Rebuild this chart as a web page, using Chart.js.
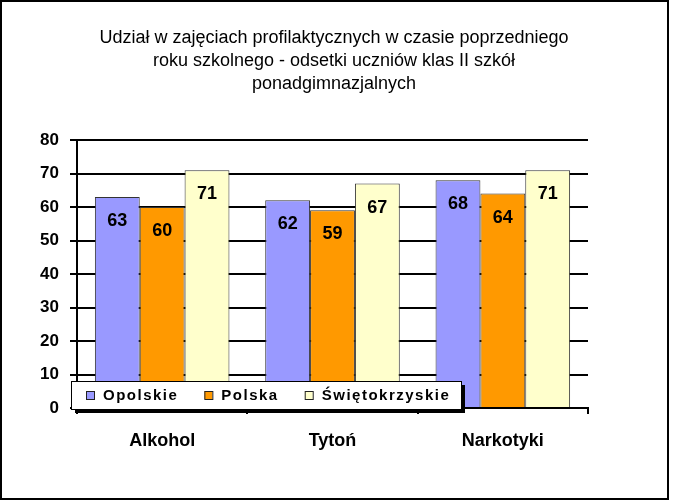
<!DOCTYPE html>
<html>
<head>
<meta charset="utf-8">
<script src="https://cdn.jsdelivr.net/npm/chart.js@4"></script>
<style>
  body { margin: 0; background: #fff; }
</style>
</head>
<body>
<canvas id="chart" width="674" height="504"></canvas>
<script>
const categories = ['Alkohol', 'Tytoń', 'Narkotyki'];
const seriesNames = ['Opolskie', 'Polska', 'Świętokrzyskie'];
const opolskie = [63, 62, 68];
const polska = [60, 59, 64];
const swietokrzyskie = [71, 67, 71];
const seriesColors = ['#9999FF', '#FF9900', '#FFFFCC'];
const titleLines = [
  'Udział w zajęciach profilaktycznych w czasie poprzedniego',
  'roku szkolnego - odsetki uczniów klas II szkół',
  'ponadgimnazjalnych'
];

const FONT = '"Liberation Sans", Arial, sans-serif';

// value labels inside the top of each bar
const barLabels = {
  id: 'barLabels',
  afterDatasetsDraw(chart) {
    const ctx = chart.ctx;
    ctx.save();
    ctx.font = 'bold 18px ' + FONT;
    ctx.fillStyle = '#000';
    ctx.textAlign = 'center';
    ctx.textBaseline = 'middle';
    chart.data.datasets.forEach((ds, i) => {
      chart.getDatasetMeta(i).data.forEach((bar, j) => {
        ctx.fillText(ds.data[j], bar.x, bar.y + 24);
      });
    });
    ctx.restore();
  }
};

// title centred on the page (not on the plot), legend box with shadow, outer frame
const pageDecor = {
  id: 'pageDecor',
  afterDraw(chart) {
    const ctx = chart.ctx;
    ctx.save();
    ctx.font = '18px ' + FONT;
    ctx.fillStyle = '#000';
    ctx.textAlign = 'center';
    ctx.textBaseline = 'middle';
    titleLines.forEach((t, i) => ctx.fillText(t, 334, 38 + i * 23));
    ctx.restore();

    const bx = 71, by = 381, bw = 390, bh = 28;
    ctx.save();
    ctx.fillStyle = '#000';
    ctx.fillRect(bx + 4, by + 4, bw, bh);
    ctx.fillStyle = '#fff';
    ctx.fillRect(bx, by, bw, bh);
    ctx.strokeStyle = '#000';
    ctx.lineWidth = 1;
    ctx.strokeRect(bx + 0.5, by + 0.5, bw, bh);

    ctx.font = 'bold 15px ' + FONT;
    if ('letterSpacing' in ctx) ctx.letterSpacing = '1.5px';
    ctx.textBaseline = 'middle';
    ctx.textAlign = 'left';
    let x = 86;
    chart.data.datasets.forEach((ds) => {
      ctx.fillStyle = ds.backgroundColor;
      ctx.fillRect(x, by + 10, 8, 8);
      ctx.strokeStyle = '#222';
      ctx.strokeRect(x + 0.5, by + 10.5, 8, 8);
      ctx.fillStyle = '#000';
      ctx.fillText(ds.label, x + 17, by + 15);
      x += 17 + ctx.measureText(ds.label).width + 26;
    });
    ctx.restore();

    ctx.save();
    ctx.strokeStyle = '#000';
    ctx.lineWidth = 2;
    ctx.strokeRect(1, 1, 667, 498);
    ctx.restore();
  }
};

new Chart(document.getElementById('chart'), {
  type: 'bar',
  data: {
    labels: categories,
    datasets: [
      { label: seriesNames[0], data: opolskie, backgroundColor: seriesColors[0] },
      { label: seriesNames[1], data: polska, backgroundColor: seriesColors[1] },
      { label: seriesNames[2], data: swietokrzyskie, backgroundColor: seriesColors[2] }
    ].map(d => Object.assign(d, {
      borderColor: '#333', borderWidth: 1,
      categoryPercentage: 0.79, barPercentage: 1
    }))
  },
  options: {
    responsive: false,
    animation: false,
    devicePixelRatio: 1,
    layout: { padding: { left: 0, right: 86, top: 140, bottom: 0 } },
    plugins: {
      legend: { display: false },
      tooltip: { enabled: false },
      title: { display: false }
    },
    scales: {
      x: {
        afterFit: (s) => { s.height = 96; },
        grid: { drawOnChartArea: false, drawTicks: true, tickLength: 6, color: '#000', lineWidth: 2, offset: true },
        border: { display: true, color: '#000', width: 2 },
        ticks: { color: '#000', padding: 16, font: { family: FONT, size: 18, weight: 'bold' } }
      },
      y: {
        min: 0, max: 80,
        afterFit: (s) => { s.width = 77; },
        grid: { color: '#000', lineWidth: 2, tickLength: 7 },
        border: { display: true, color: '#000', width: 2 },
        ticks: { stepSize: 10, color: '#000', padding: 11, font: { family: FONT, size: 17, weight: 'bold' } }
      }
    }
  },
  plugins: [barLabels, pageDecor]
});
</script>
</body>
</html>
